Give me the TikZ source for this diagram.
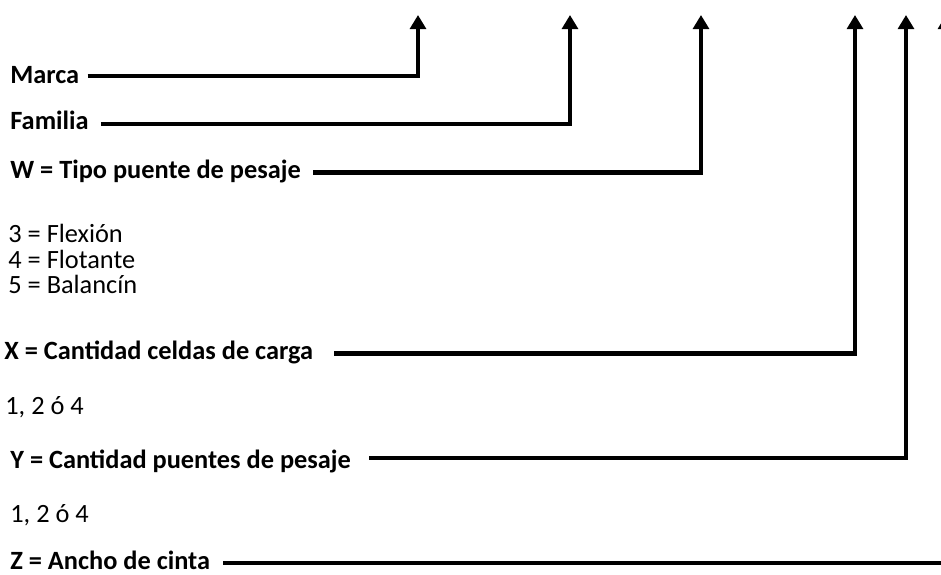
\documentclass[tikz,border=0pt]{standalone}
\usepackage{fontspec}
\setmainfont{Carlito}
\usetikzlibrary{arrows.meta}

\begin{document}
\begin{tikzpicture}[x=0.02cm,y=-0.02cm,
    lbl/.style={anchor=west,inner sep=0pt,font=\fontsize{15}{17}\selectfont\bfseries},
    opt/.style={anchor=west,inner sep=0pt,align=left,font=\fontsize{15}{14.7}\selectfont},
    conn/.style={line width=2.7pt,-{Triangle[width=9pt,length=8pt]}}]
  \useasboundingbox (0,0) rectangle (941,575);
  \coordinate (tM) at (418,15);
  \coordinate (tF) at (570,15);
  \coordinate (tW) at (701,15);
  \coordinate (tX) at (855,15);
  \coordinate (tY) at (906,15);
  \coordinate (tZ) at (946,15);
  \node[lbl] (marca) at (10,75) {Marca};
  \node[lbl] (familia) at (10,120) {Familia};
  \node[lbl] (tipoW) at (10,171) {W = Tipo puente de pesaje};
  \node[opt] (valW) at (8,259) {3 = Flexión\\4 = Flotante\\5 = Balancín};
  \node[lbl] (celdasX) at (4,352) {X = Cantidad celdas de carga};
  \node[opt] (valX) at (5,407) {1, 2 ó 4};
  \node[lbl] (puentesY) at (10,461) {Y = Cantidad puentes de pesaje};
  \node[opt] (valY) at (10,515) {1, 2 ó 4};
  \node[lbl] (anchoZ) at (10,560) {Z = Ancho de cinta};
  \draw[conn] ([xshift=4.5pt,yshift=-0.5pt]marca.east) -| (tM);
  \draw[conn] ([xshift=6.8pt,yshift=-2.3pt]familia.east) -| (tF);
  \draw[conn] ([xshift=6.8pt,yshift=-1pt]tipoW.east) -| (tW);
  \draw[conn] ([xshift=11.9pt,yshift=-1pt]celdasX.east) -| (tX);
  \draw[conn] ([xshift=10.2pt,yshift=1.7pt]puentesY.east) -| (tY);
  \draw[conn] ([xshift=7.4pt,yshift=-1.7pt]anchoZ.east) -| (tZ);
\end{tikzpicture}
\end{document}
